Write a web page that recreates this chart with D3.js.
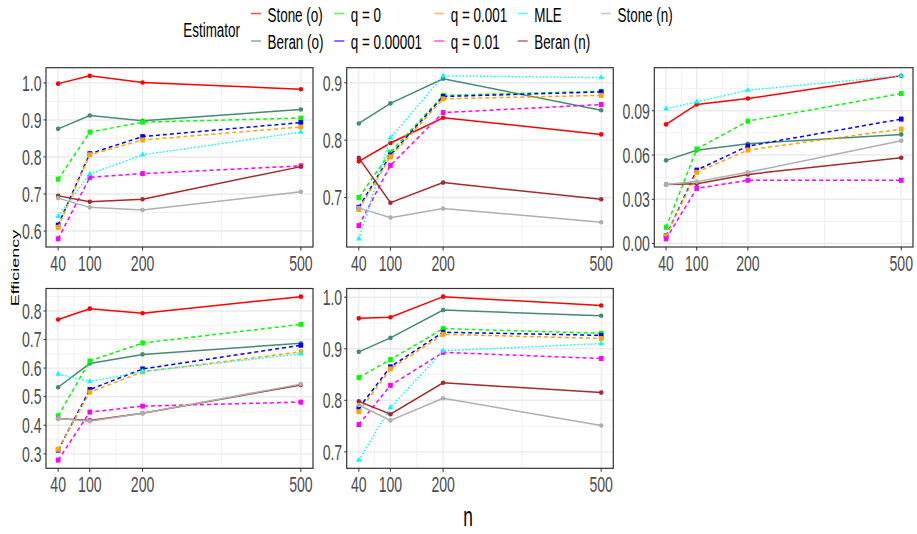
<!DOCTYPE html>
<html>
<head>
<meta charset="utf-8">
<script src="https://cdn.jsdelivr.net/npm/d3@7"></script>
<style>
  body { margin: 0; background: #fff; }
  text { font-family: "Liberation Sans", Arial, sans-serif; }
</style>
</head>
<body>
<div id="chart"></div>
<script>
// data
var nValues = [40, 100, 200, 500];
var estimators = ["Stone (o)", "Beran (o)", "q = 0", "q = 0.00001", "q = 0.001", "q = 0.01", "MLE", "Beran (n)", "Stone (n)"];
var colors = ["#FF0000", "#458B74", "#00FF00", "#0000FF", "#FFA500", "#FF00FF", "#00FFFF", "#A52A2A", "#AFAFAF"];
var styles = ["solid", "solid", "dashed", "dashed", "dashed", "dashed", "dotted", "solid", "solid"];

var panel1 = [
  [0.998, 1.019, 1.001, 0.983],
  [0.876, 0.912, 0.898, 0.928],
  [0.740, 0.867, 0.894, 0.905],
  [0.616, 0.809, 0.855, 0.893],
  [0.610, 0.806, 0.846, 0.881],
  [0.579, 0.745, 0.755, 0.776],
  [0.640, 0.754, 0.806, 0.867],
  [0.695, 0.679, 0.686, 0.774],
  [0.689, 0.664, 0.657, 0.706]
];
var panel2 = [
  [0.763, 0.795, 0.839, 0.810],
  [0.829, 0.864, 0.907, 0.852],
  [0.700, 0.779, 0.878, 0.885],
  [0.683, 0.774, 0.876, 0.884],
  [0.679, 0.771, 0.872, 0.878],
  [0.651, 0.756, 0.848, 0.862],
  [0.628, 0.804, 0.912, 0.909],
  [0.769, 0.691, 0.726, 0.697],
  [0.682, 0.665, 0.681, 0.657]
];
var panel3 = [
  [0.0808, 0.0943, 0.0983, 0.1137],
  [0.0564, 0.0632, 0.0677, 0.0740],
  [0.0110, 0.0641, 0.0830, 0.1017],
  [0.0052, 0.0498, 0.0661, 0.0844],
  [0.0050, 0.0483, 0.0634, 0.0776],
  [0.0032, 0.0374, 0.0429, 0.0429],
  [0.0914, 0.0961, 0.1040, 0.1137],
  [0.0401, 0.0406, 0.0469, 0.0582],
  [0.0401, 0.0420, 0.0483, 0.0697]
];
var panel4 = [
  [0.770, 0.808, 0.792, 0.850],
  [0.533, 0.616, 0.648, 0.687],
  [0.433, 0.625, 0.688, 0.753],
  [0.313, 0.525, 0.597, 0.680],
  [0.316, 0.516, 0.587, 0.657],
  [0.278, 0.446, 0.467, 0.481],
  [0.579, 0.553, 0.588, 0.650],
  [0.424, 0.417, 0.442, 0.541],
  [0.424, 0.414, 0.442, 0.544]
];
var panel5 = [
  [0.959, 0.961, 1.001, 0.984],
  [0.894, 0.921, 0.975, 0.964],
  [0.844, 0.879, 0.939, 0.930],
  [0.785, 0.865, 0.932, 0.926],
  [0.778, 0.861, 0.928, 0.920],
  [0.753, 0.829, 0.893, 0.881],
  [0.684, 0.786, 0.896, 0.910],
  [0.798, 0.773, 0.834, 0.815],
  [0.791, 0.761, 0.804, 0.751]
];

var yTicks1 = [0.6, 0.7, 0.8, 0.9, 1.0];
var yTicks2 = [0.7, 0.8, 0.9];
var yTicks3 = [0, 0.03, 0.06, 0.09];
var yTicks4 = [0.3, 0.4, 0.5, 0.6, 0.7, 0.8];
var yTicks5 = [0.7, 0.8, 0.9, 1.0];

var svgWidth = 917;
var svgHeight = 534;
var sx = 0.64; // the picture is squeezed sideways

var svg = d3.select("#chart")
  .append("svg")
  .attr("width", svgWidth)
  .attr("height", svgHeight);

function squeezedText(g, x, y, str) {
  return g.append("text")
    .attr("transform", `translate(${x},${y}) scale(${sx},1)`)
    .text(str);
}

var panels = [
  {data: panel1, ticks: yTicks1, fmt: ".1f", x0: 46, x1: 313, y0: 67.7, y1: 247},
  {data: panel2, ticks: yTicks2, fmt: ".1f", x0: 346.7, x1: 613.3, y0: 67.7, y1: 247},
  {data: panel3, ticks: yTicks3, fmt: ".2f", x0: 654.3, x1: 913, y0: 67.7, y1: 247},
  {data: panel4, ticks: yTicks4, fmt: ".1f", x0: 46, x1: 313, y0: 288.5, y1: 468.3},
  {data: panel5, ticks: yTicks5, fmt: ".1f", x0: 346.7, x1: 613.3, y0: 288.5, y1: 468.3}
];

panels.forEach(function(p) {
  var g = svg.append("g");

  var xExt = d3.extent(nValues);
  var xPad = (xExt[1] - xExt[0]) * 0.05;
  var xScale = d3.scaleLinear()
    .domain([xExt[0] - xPad, xExt[1] + xPad])
    .range([p.x0, p.x1]);

  var yExt = d3.extent(d3.merge(p.data));
  var yPad = (yExt[1] - yExt[0]) * 0.05;
  var yScale = d3.scaleLinear()
    .domain([yExt[0] - yPad, yExt[1] + yPad])
    .range([p.y1, p.y0]);

  // minor grid
  var step = p.ticks[1] - p.ticks[0];
  var yMinor = [];
  for (var i = -1; i < p.ticks.length; i++) {
    var v = p.ticks[0] + (i + 0.5) * step;
    if (v > yScale.domain()[0] && v < yScale.domain()[1]) yMinor.push(v);
  }
  var xMinor = [];
  for (var j = 0; j < nValues.length - 1; j++) xMinor.push((nValues[j] + nValues[j + 1]) / 2);

  g.selectAll(".ymin").data(yMinor).enter().append("line")
    .attr("x1", p.x0).attr("x2", p.x1)
    .attr("y1", d => yScale(d)).attr("y2", d => yScale(d))
    .attr("stroke", "#F2F2F2").attr("stroke-width", 1);
  g.selectAll(".xmin").data(xMinor).enter().append("line")
    .attr("y1", p.y0).attr("y2", p.y1)
    .attr("x1", d => xScale(d)).attr("x2", d => xScale(d))
    .attr("stroke", "#F2F2F2").attr("stroke-width", 1);

  // major grid
  g.selectAll(".ymaj").data(p.ticks).enter().append("line")
    .attr("x1", p.x0).attr("x2", p.x1)
    .attr("y1", d => yScale(d)).attr("y2", d => yScale(d))
    .attr("stroke", "#EBEBEB").attr("stroke-width", 1.4);
  g.selectAll(".xmaj").data(nValues).enter().append("line")
    .attr("y1", p.y0).attr("y2", p.y1)
    .attr("x1", d => xScale(d)).attr("x2", d => xScale(d))
    .attr("stroke", "#EBEBEB").attr("stroke-width", 1.2);

  // series
  var line = d3.line()
    .x((d, i) => xScale(nValues[i]))
    .y(d => yScale(d));

  p.data.forEach(function(vals, k) {
    var dash = styles[k] == "dashed" ? "4,3" : (styles[k] == "dotted" ? "1.5,2" : null);
    g.append("path")
      .attr("d", line(vals))
      .attr("fill", "none")
      .attr("stroke", colors[k])
      .attr("stroke-width", 1.5)
      .attr("stroke-dasharray", dash);

    var pts = g.selectAll(null).data(vals).enter();
    if (styles[k] == "solid") {
      pts.append("circle")
        .attr("cx", (d, i) => xScale(nValues[i]))
        .attr("cy", d => yScale(d))
        .attr("r", 2.3)
        .attr("fill", colors[k]);
    } else if (styles[k] == "dashed") {
      pts.append("rect")
        .attr("x", (d, i) => xScale(nValues[i]) - 2.3)
        .attr("y", d => yScale(d) - 2.5)
        .attr("width", 4.6)
        .attr("height", 5)
        .attr("fill", colors[k]);
    } else {
      pts.append("path")
        .attr("d", d3.symbol().type(d3.symbolTriangle).size(14))
        .attr("transform", (d, i) => `translate(${xScale(nValues[i])},${yScale(d)})`)
        .attr("fill", colors[k]);
    }
  });

  // border
  g.append("rect")
    .attr("x", p.x0).attr("y", p.y0)
    .attr("width", p.x1 - p.x0).attr("height", p.y1 - p.y0)
    .attr("fill", "none").attr("stroke", "#333333").attr("stroke-width", 1.2);

  // y axis ticks + labels
  var fmt = d3.format(p.fmt);
  p.ticks.forEach(function(t) {
    g.append("line")
      .attr("x1", p.x0 - 2.5).attr("x2", p.x0)
      .attr("y1", yScale(t)).attr("y2", yScale(t))
      .attr("stroke", "#333333").attr("stroke-width", 1);
    squeezedText(g, p.x0 - 4.5, yScale(t) + 7.8, fmt(t))
      .attr("text-anchor", "end")
      .attr("fill", "#4D4D4D")
      .style("font-size", "22px");
  });

  // x axis ticks + labels
  nValues.forEach(function(n) {
    g.append("line")
      .attr("x1", xScale(n)).attr("x2", xScale(n))
      .attr("y1", p.y1).attr("y2", p.y1 + 3.5)
      .attr("stroke", "#333333").attr("stroke-width", 1);
    squeezedText(g, xScale(n), p.y1 + 24, n)
      .attr("text-anchor", "middle")
      .attr("fill", "#4D4D4D")
      .style("font-size", "22px");
  });
});

// axis titles
squeezedText(svg, 468, 526, "n")
  .attr("text-anchor", "middle")
  .attr("fill", "black")
  .style("font-size", "27px");

svg.append("text")
  .attr("transform", "translate(18.5,268) rotate(-90) scale(1," + sx + ")")
  .attr("text-anchor", "middle")
  .attr("fill", "black")
  .style("font-size", "18px")
  .text("Efficiency");

// legend
var legend = svg.append("g");
squeezedText(legend, 183.3, 36.7, "Estimator")
  .attr("fill", "black")
  .style("font-size", "21px");

var colX = [251, 334.3, 434.3, 517.7, 601];
var rowY = [13.5, 41];
estimators.forEach(function(name, k) {
  var cx = colX[Math.floor(k / 2)];
  var cy = rowY[k % 2];
  legend.append("line")
    .attr("x1", cx).attr("x2", cx + 10)
    .attr("y1", cy).attr("y2", cy)
    .attr("stroke", colors[k])
    .attr("stroke-width", 1.5)
    .attr("opacity", 0.7);
  squeezedText(legend, cx + 16.5, cy + 8.3, name)
    .attr("fill", "black")
    .style("font-size", "21px");
});
</script>
</body>
</html>
